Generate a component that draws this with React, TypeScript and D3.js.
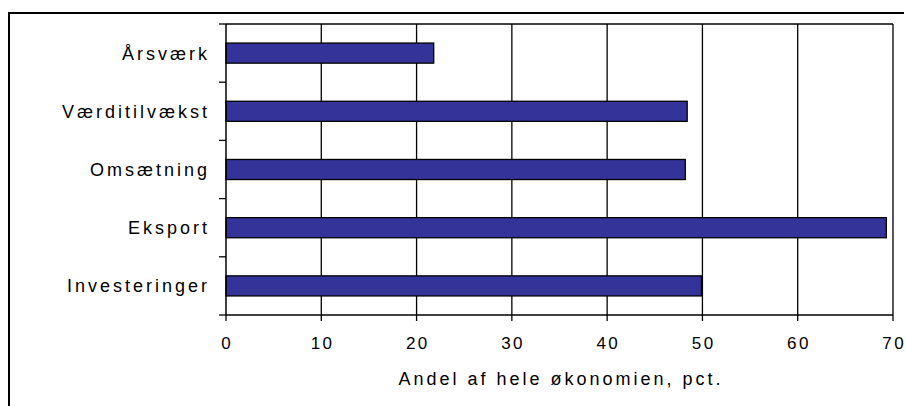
import React from "react";
import * as d3 from "d3";

const categories = ["Årsværk", "Værditilvækst", "Omsætning", "Eksport", "Investeringer"];
const values = [21.8, 48.4, 48.2, 69.3, 49.9];
const xTicks = [0, 10, 20, 30, 40, 50, 60, 70];
const xTitle = "Andel af hele økonomien, pct.";

const W = 906;
const H = 406;
const margin = { top: 24, right: 13, bottom: 91, left: 226 };

const App: React.FC = () => {
  const innerW = W - margin.left - margin.right;
  const innerH = H - margin.top - margin.bottom;

  const x = d3.scaleLinear().domain([0, 70]).range([0, innerW]);
  const y = d3.scaleBand<string>().domain(categories).range([0, innerH]).paddingInner(0.655).paddingOuter(0.3275);
  const step = y.step();
  const font = "Arial, 'Liberation Sans', sans-serif";

  return (
    <svg width={W} height={H} style={{ position: "absolute", left: 0, top: 0, background: "#fff" }}>
      {/* outer frame (only top and left edges fall inside the picture) */}
      <line x1={8} x2={904} y1={13} y2={13} stroke="#000" strokeWidth={2} />
      <line x1={9} x2={9} y1={12} y2={H} stroke="#000" strokeWidth={2} />
      <g transform={`translate(${margin.left},${margin.top})`}>
        {/* vertical gridlines */}
        {xTicks.slice(1).map((t) => (
          <line key={t} x1={x(t)} x2={x(t)} y1={0} y2={innerH} stroke="#000" strokeWidth={1.3} />
        ))}
        {/* top border */}
        <line x1={0} x2={innerW} y1={0} y2={0} stroke="#000" strokeWidth={1.3} />
        {/* bars */}
        {categories.map((c, i) => (
          <rect
            key={c}
            x={x(0)}
            y={y(c)!}
            width={x(values[i]) - x(0)}
            height={y.bandwidth()}
            fill="#333399"
            stroke="#000"
            strokeWidth={1.3}
          />
        ))}
        {/* left axis */}
        <line x1={0} x2={0} y1={0} y2={innerH} stroke="#000" strokeWidth={1.5} />
        {d3.range(categories.length + 1).map((i) => (
          <line key={i} x1={-7} x2={0} y1={i * step} y2={i * step} stroke="#000" strokeWidth={1.3} />
        ))}
        {categories.map((c) => (
          <text
            key={c}
            x={-16}
            y={y(c)! + y.bandwidth() / 2}
            dy="0.36em"
            textAnchor="end"
            fontFamily={font}
            fontSize={18}
            letterSpacing={3}
            fill="#000"
          >
            {c}
          </text>
        ))}
        {/* bottom axis */}
        <line x1={0} x2={innerW} y1={innerH} y2={innerH} stroke="#000" strokeWidth={1.5} />
        {xTicks.map((t) => (
          <g key={t} transform={`translate(${x(t)},${innerH})`}>
            <line y1={0} y2={6} stroke="#000" strokeWidth={1.3} />
            <text x={1.2} y={34} textAnchor="middle" fontFamily={font} fontSize={17} letterSpacing={2.4} fill="#000">
              {t}
            </text>
          </g>
        ))}
        <text
          x={innerW / 2 + 1.5}
          y={innerH + 70}
          textAnchor="middle"
          fontFamily={font}
          fontSize={18}
          letterSpacing={3}
          fill="#000"
        >
          {xTitle}
        </text>
      </g>
    </svg>
  );
};

export default App;
